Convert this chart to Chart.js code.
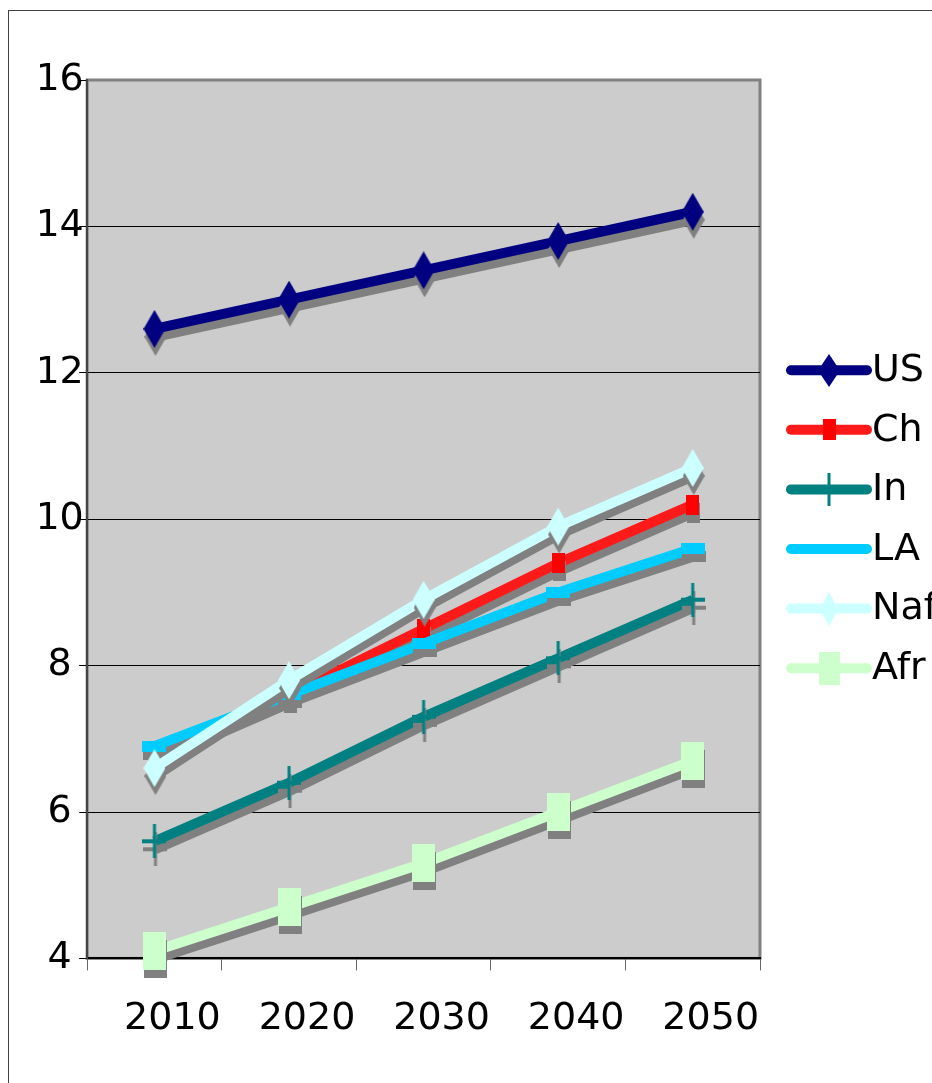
<!DOCTYPE html>
<html lang="en">

<head>
    <meta charset="UTF-8">
    <title>Series 2010-2050</title>
    <script src="https://cdn.jsdelivr.net/npm/chart.js"></script>
    <style>
        body { margin: 0; background: #fff; overflow: hidden; }
        #frame {
            position: absolute; left: 8px; top: 10px;
            width: 1000px; height: 1200px;
            border: 1px solid #404040;
        }
        #chart { position: absolute; left: 0; top: 0; }
    </style>
</head>

<body>
    <div id="frame"></div>
    <canvas id="chart" width="932" height="1083"></canvas>

    <script>
        // data
        const years = ['2010', '2020', '2030', '2040', '2050'];
        const seriesNames = ['US', 'Ch', 'In', 'LA', 'Naf', 'Afr'];
        const usValues = [12.6, 13.0, 13.4, 13.8, 14.2];
        const chValues = [6.8, 7.6, 8.5, 9.4, 10.2];
        const inValues = [5.6, 6.4, 7.3, 8.1, 8.9];
        const laValues = [6.9, 7.6, 8.3, 9.0, 9.6];
        const nafValues = [6.6, 7.8, 8.9, 9.9, 10.7];
        const afrValues = [4.1, 4.7, 5.3, 6.0, 6.7];
        const yMin = 4, yMax = 16, yStep = 2;

        const allValues = [usValues, chValues, inValues, laValues, nafValues, afrValues];

        // look of each series: line colour, marker shape/colour, marker size (chart, legend)
        const styles = [
            { line: '#000080', mark: '#000080', shape: 'diamond', size: [22, 38], legendSize: [22, 33] },
            { line: '#ff1a1a', mark: '#ff0000', shape: 'rect', size: [13, 20], legendSize: [13, 21] },
            { line: '#008080', mark: '#008080', shape: 'plus', size: [24, 34], legendSize: [24, 33] },
            { line: '#00ccff', mark: '#00ccff', shape: 'rect', size: [24, 11], legendSize: [24, 10] },
            { line: '#ccffff', mark: '#ccffff', shape: 'diamond', size: [22, 38], legendSize: [18, 34] },
            { line: '#ccffcc', mark: '#ccffcc', shape: 'rect', size: [23, 38], legendSize: [21, 33] }
        ];

        // draw a marker into a small canvas so it can be used as pointStyle
        function makeMarker(shape, color, w, h) {
            const c = document.createElement('canvas');
            c.width = w; c.height = h;
            const g = c.getContext('2d');
            g.fillStyle = color;
            if (shape === 'diamond') {
                g.beginPath();
                g.moveTo(w / 2, 0);
                g.lineTo(w, h / 2);
                g.lineTo(w / 2, h);
                g.lineTo(0, h / 2);
                g.closePath();
                g.fill();
            } else if (shape === 'plus') {
                g.fillRect(w / 2 - 1.5, 0, 3, h);
                g.fillRect(0, h / 2 - 2, w, 4);
            } else {
                g.fillRect(0, 0, w, h);
            }
            return c;
        }

        const chartMarkers = styles.map(s => makeMarker(s.shape, s.mark, s.size[0], s.size[1]));
        const legendMarkers = styles.map(s => makeMarker(s.shape, s.mark, s.legendSize[0], s.legendSize[1]));

        // gray plot area with gray frame
        const plotBackground = {
            id: 'plotBackground',
            beforeDraw(chart) {
                const { ctx, chartArea: a } = chart;
                ctx.save();
                ctx.fillStyle = '#cccccc';
                ctx.fillRect(a.left, a.top, a.right - a.left, a.bottom - a.top);
                ctx.strokeStyle = '#808080';
                ctx.lineWidth = 3;
                ctx.strokeRect(a.left, a.top, a.right - a.left, a.bottom - a.top);
                ctx.restore();
            }
        };

        // hard gray drop shadow under every series
        const dropShadow = {
            id: 'dropShadow',
            beforeDatasetDraw(chart) {
                const ctx = chart.ctx;
                ctx.save();
                ctx.shadowColor = '#808080';
                ctx.shadowBlur = 0;
                ctx.shadowOffsetX = 1;
                ctx.shadowOffsetY = 8;
            },
            afterDatasetDraw(chart) {
                chart.ctx.restore();
            }
        };

        // legend on the right: line with the marker in the middle, then the name
        const sideLegend = {
            id: 'sideLegend',
            afterDraw(chart) {
                const { ctx, chartArea: a } = chart;
                const n = chart.data.datasets.length;
                const mid = (a.top + a.bottom) / 2;
                const gap = 59.6;
                chart.data.datasets.forEach((ds, i) => {
                    const y = mid + (i - (n - 1) / 2) * gap;
                    const x0 = a.right + 31;
                    const x1 = a.right + 107;
                    ctx.save();
                    ctx.strokeStyle = ds.borderColor;
                    ctx.lineWidth = 10;
                    ctx.lineCap = 'round';
                    ctx.beginPath();
                    ctx.moveTo(x0, y);
                    ctx.lineTo(x1, y);
                    ctx.stroke();
                    const m = legendMarkers[i];
                    ctx.drawImage(m, Math.round((x0 + x1) / 2 - m.width / 2), Math.round(y - m.height / 2));
                    ctx.fillStyle = '#000';
                    ctx.font = '38px "DejaVu Sans"';
                    ctx.textBaseline = 'middle';
                    ctx.fillText(ds.label, x1 + 5, y + 1);
                    ctx.restore();
                });
            }
        };

        const datasets = seriesNames.map((name, i) => ({
            label: name,
            data: allValues[i],
            borderColor: styles[i].line,
            backgroundColor: styles[i].mark,
            borderWidth: 10,
            borderJoinStyle: 'round',
            pointStyle: chartMarkers[i],
            pointRadius: 12,
            tension: 0,
            clip: false,
            order: seriesNames.length - 1 - i  // later series drawn on top
        }));

        const axisFont = { family: 'DejaVu Sans', size: 38 };

        new Chart(document.getElementById('chart'), {
            type: 'line',
            data: { labels: years, datasets: datasets },
            options: {
                responsive: false,
                animation: false,
                events: [],
                layout: { padding: { left: 40, right: 172, top: 80, bottom: 15 } },
                plugins: {
                    legend: { display: false },
                    tooltip: { enabled: false }
                },
                scales: {
                    x: {
                        offset: true,
                        grid: {
                            offset: true,
                            drawOnChartArea: false,
                            tickLength: 12,
                            tickColor: '#666'
                        },
                        border: { color: '#000', width: 2 },
                        ticks: { font: axisFont, color: '#000', padding: 26, labelOffset: 18, maxRotation: 0, autoSkip: false }
                    },
                    y: {
                        min: yMin,
                        max: yMax,
                        grid: {
                            color: c => (c.tick && c.tick.value === yMax) ? 'rgba(0,0,0,0)' : '#000',
                            lineWidth: 1,
                            tickLength: 8,
                            tickColor: '#000'
                        },
                        border: { color: '#444', width: 2 },
                        ticks: { stepSize: yStep, font: axisFont, color: '#000', padding: -4.6, crossAlign: 'center' }
                    }
                }
            },
            plugins: [plotBackground, dropShadow, sideLegend]
        });
    </script>
</body>

</html>
